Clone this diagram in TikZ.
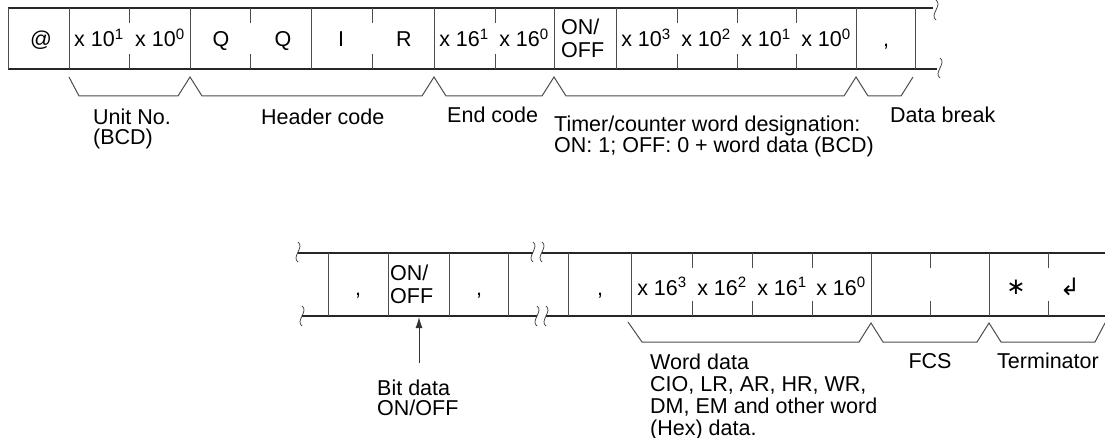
\documentclass[tikz,border=0pt]{standalone}
\usepackage{fontspec}
\setmainfont{Liberation Sans}
\newfontfamily\symfont{DejaVu Sans}
\usetikzlibrary{arrows.meta}

\newcommand{\pw}[2]{x #1\textsuperscript{#2}}

\begin{document}
\begin{tikzpicture}[x=1pt, y=-1pt,
    hline/.style={line width=1.2pt, black!85},
    vline/.style={line width=1pt, black!70},
    brace/.style={line width=1pt, black!70, line join=miter},
    cell/.style={font=\fontsize{21.5}{23}\selectfont, inner sep=0pt, anchor=base},
    lbl/.style={font=\fontsize{21.5}{20}\selectfont, inner sep=0pt, align=left, anchor=base west},
    squig/.pic={\draw[line width=0.7pt, black!80] (0,-10) .. controls (7,-5) and (-7,5) .. (0,10);}]
\useasboundingbox (0,0) rectangle (1105,438);

% first frame
\draw[hline] (8,8) -- (933,8) (8,69) -- (937,69);
\foreach \x in {8,69,190,311,434,554,616,856,915}
    \draw[vline] (\x,8) -- (\x,69);
\foreach \x in {129,250,372,495,677,737,796}
    \draw[vline] (\x,8) -- (\x,23) (\x,54) -- (\x,69);
\pic at (936,10) {squig};
\pic at (940,68) {squig};

\node[cell] (at) at (41,47) {@};
\node[cell] (u1) at (99,47) {\pw{10}{1}};
\node[cell] (u0) at (160,47) {\pw{10}{0}};
\node[cell] (h1) at (221,47) {Q};
\node[cell] (h2) at (283,47) {Q};
\node[cell] (h3) at (341,47) {I};
\node[cell] (h4) at (404,47) {R};
\node[cell] (e1) at (464,47) {\pw{16}{1}};
\node[cell] (e0) at (524,47) {\pw{16}{0}};
\node[cell, align=left, anchor=base west] (onoff) at (561,58) {ON/\\OFF};
\node[cell] (w3) at (646,47) {\pw{10}{3}};
\node[cell] (w2) at (706,47) {\pw{10}{2}};
\node[cell] (w1) at (766,47) {\pw{10}{1}};
\node[cell] (w0) at (826,47) {\pw{10}{0}};
\node[cell] (brk) at (886,47) {,};

\draw[brace] (69,77) -- (79,96) -- (178,96) -- (190,77) -- (202,96)
    -- (422,96) -- (434,77) -- (446,96) -- (542,96) -- (554,77) -- (566,96)
    -- (844,96) -- (856,77) -- (868,96) -- (901,96) -- (913,77);

\node[lbl] (unitlbl) at (93,145) {Unit No.\\(BCD)};
\node[lbl] (headlbl) at (261,125) {Header code};
\node[lbl] (endlbl) at (447,123) {End code};
\node[lbl, font=\fontsize{21.5}{18.5}\selectfont] (timerlbl) at (554,153)
    {Timer/counter word designation:\\ON: 1; OFF: 0 + word data (BCD)};
\node[lbl] (brklbl) at (890,123) {Data break};

% second frame
\draw[hline] (298,253) -- (533,253) (542,253) -- (1105,253)
    (302,316) -- (537,316) (546,316) -- (1105,316);
\foreach \x in {328,388,449,508,568,631,871,989}
    \draw[vline] (\x,253) -- (\x,316);
\foreach \x in {692,752,812,930,1048}
    \draw[vline] (\x,253) -- (\x,268) (\x,301) -- (\x,316);
\pic at (298,252) {squig};
\pic at (302,316) {squig};
\pic at (533,252) {squig};
\pic at (542,252) {squig};
\pic at (537,316) {squig};
\pic at (546,316) {squig};

\node[cell] (c1) at (358,295) {,};
\node[cell, align=left, anchor=base west] (bit) at (390,303) {ON/\\OFF};
\node[cell] (c2) at (479,295) {,};
\node[cell] (c3) at (600,295) {,};
\node[cell] (d3) at (662,295) {\pw{16}{3}};
\node[cell] (d2) at (722,295) {\pw{16}{2}};
\node[cell] (d1) at (782,295) {\pw{16}{1}};
\node[cell] (d0) at (841,295) {\pw{16}{0}};
\node[inner sep=0pt] (ast) at (1016,287) {\symfont\fontsize{23}{23}\selectfont ∗};
\node[inner sep=0pt] (ret) at (1070,287) {\symfont\fontsize{24}{24}\selectfont ↲};

\draw[brace] (628,322) -- (642,342) -- (859,342) -- (871,323) -- (883,342)
    -- (977,342) -- (989,323) -- (1001,342) -- (1095,342) -- (1105,323);

\coordinate (bitbot) at (419,317);
\coordinate (bittail) at (419,363);
\draw[line width=1pt, black!80, -{Latex[length=11pt, width=7pt]}] (bittail) -- (bitbot);

\node[lbl] (bitlbl) at (377,415) {Bit data\\ON/OFF};
\node[lbl, font=\fontsize{21.5}{21.7}\selectfont] (wordlbl) at (650,435)
    {Word data\\CIO, LR, AR, HR, WR,\\DM, EM and other word\\(Hex) data.};
\node[lbl, anchor=base] (fcslbl) at (930,368) {FCS};
\node[lbl] (termlbl) at (997,368) {Terminator};
\end{tikzpicture}
\end{document}
